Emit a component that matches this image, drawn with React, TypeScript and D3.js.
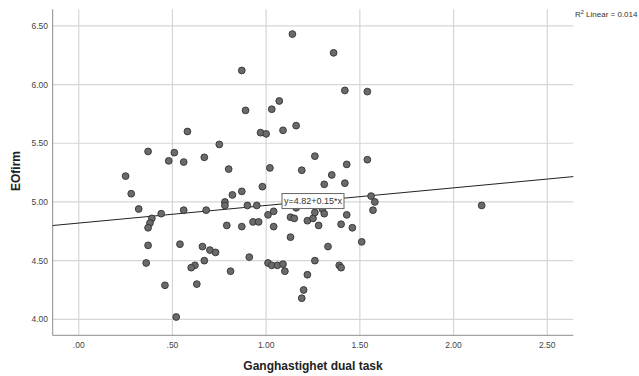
import React from "react";
import * as d3 from "d3";

const xValues = [
  1.14, 1.36, 0.87, 1.42, 1.54, 1.07, 1.03, 0.89, 1.16, 1.09,
  0.97, 1.0, 0.58, 0.75, 0.37, 0.51, 0.48, 0.56, 0.67, 1.26,
  1.54, 1.43, 1.35, 1.31, 1.42, 0.25, 0.8, 1.02, 1.19, 0.98,
  0.87, 0.82, 0.78, 0.78, 0.9, 0.95, 1.01, 1.04, 0.79, 0.87,
  0.93, 0.96, 1.04, 1.13, 1.15, 1.16, 1.22, 1.25, 1.26, 1.28,
  1.3, 1.31, 1.13, 1.33, 0.91, 1.01, 1.03, 1.06, 1.09, 1.1,
  0.81, 1.26, 1.22, 1.2, 1.19, 0.28, 0.32, 0.44, 0.39, 0.38,
  0.37, 0.56, 0.68, 0.37, 0.36, 0.54, 0.66, 0.7, 0.73, 0.67,
  0.62, 0.6, 0.63, 0.46, 0.52, 1.56, 1.58, 1.57, 1.43, 1.4,
  1.46, 1.51, 1.39, 1.4, 2.15,
];
const yValues = [
  6.43, 6.27, 6.12, 5.95, 5.94, 5.86, 5.79, 5.78, 5.65, 5.61,
  5.59, 5.58, 5.6, 5.49, 5.43, 5.42, 5.35, 5.34, 5.38, 5.39,
  5.36, 5.32, 5.23, 5.15, 5.16, 5.22, 5.28, 5.29, 5.27, 5.13,
  5.09, 5.06, 5.0, 4.97, 4.97, 4.97, 4.89, 4.92, 4.8, 4.79,
  4.83, 4.83, 4.79, 4.87, 4.86, 4.95, 4.84, 4.86, 4.91, 4.8,
  4.94, 4.9, 4.7, 4.62, 4.53, 4.48, 4.46, 4.46, 4.47, 4.41,
  4.41, 4.5, 4.38, 4.25, 4.18, 5.07, 4.94, 4.9, 4.86, 4.82,
  4.78, 4.93, 4.93, 4.63, 4.48, 4.64, 4.62, 4.59, 4.57, 4.5,
  4.46, 4.44, 4.3, 4.29, 4.02, 5.05, 5.0, 4.93, 4.89, 4.81,
  4.78, 4.66, 4.46, 4.44, 4.97,
];

const xTicks = [0, 0.5, 1, 1.5, 2, 2.5];
const xTickLabels = [".00", ".50", "1.00", "1.50", "2.00", "2.50"];
const yTicks = [4, 4.5, 5, 5.5, 6, 6.5];
const yTickLabels = ["4.00", "4.50", "5.00", "5.50", "6.00", "6.50"];

const intercept = 4.82;
const slope = 0.15;
const fitLabel = "y=4.82+0.15*x";
const r2Value = "0.014";
const xTitle = "Ganghastighet dual task";
const yTitle = "EOfirm";

const W = 639;
const H = 376;
const FONT = "'Liberation Sans', Arial, sans-serif";

export default function App() {
  const x = d3.scaleLinear().domain([-0.139, 2.639]).range([52.7, 573.3]);
  const y = d3.scaleLinear().domain([3.864, 6.641]).range([335.3, 9.3]);
  const [x0, x1] = x.domain();
  const line = d3
    .line<number>()
    .x((d) => x(d))
    .y((d) => y(intercept + slope * d));

  const labelX = 1.25;
  const lx = x(labelX);
  const ly = y(intercept + slope * labelX);
  const bw = 62;
  const bh = 15;

  return (
    <div style={{ position: "absolute", left: 0, top: 0 }}>
      <svg width={W} height={H} style={{ display: "block", background: "#fff" }}>
        <rect width={W} height={H} fill="#fff" />
        {/* grid */}
        {yTicks.map((t) => (
          <line key={"gy" + t} x1={x(x0)} x2={x(x1)} y1={y(t)} y2={y(t)} stroke="#d6d6d6" strokeWidth={1.2} />
        ))}
        {xTicks.map((t) => (
          <line key={"gx" + t} x1={x(t)} x2={x(t)} y1={y(3.864)} y2={y(6.641)} stroke="#d6d6d6" strokeWidth={1.2} />
        ))}
        {/* axes */}
        <line x1={x(x0)} x2={x(x0)} y1={y(3.864)} y2={y(6.641)} stroke="#8c8c8c" strokeWidth={1} />
        <line x1={x(x0)} x2={x(x1)} y1={y(3.864)} y2={y(3.864)} stroke="#8c8c8c" strokeWidth={1} />
        {/* tick labels */}
        {yTicks.map((t, i) => (
          <text key={"ly" + t} x={48} y={y(t)} dy="0.35em" textAnchor="end" fontFamily={FONT} fontSize={8.5} fill="#444">
            {yTickLabels[i]}
          </text>
        ))}
        {xTicks.map((t, i) => (
          <text key={"lx" + t} x={x(t)} y={345} dy="0.35em" textAnchor="middle" fontFamily={FONT} fontSize={8.5} fill="#444">
            {xTickLabels[i]}
          </text>
        ))}
        {/* titles */}
        <text x={313} y={366} dy="0.35em" textAnchor="middle" fontFamily={FONT} fontSize={12} fontWeight="bold" fill="#222">
          {xTitle}
        </text>
        <text
          transform={`translate(16,171) rotate(-90)`}
          dy="0.35em"
          textAnchor="middle"
          fontFamily={FONT}
          fontSize={12}
          fontWeight="bold"
          fill="#222"
        >
          {yTitle}
        </text>
        {/* fit line */}
        <path d={line([x0, x1]) || ""} fill="none" stroke="#222" strokeWidth={1} />
        {/* points */}
        {xValues.map((v, i) => (
          <circle key={"p" + i} cx={x(v)} cy={y(yValues[i])} r={3.4} fill="#6a6a6a" stroke="#333" strokeWidth={0.9} />
        ))}
        {/* fit label */}
        <rect x={lx - bw / 2} y={ly - bh / 2} width={bw} height={bh} fill="#fff" stroke="#666" strokeWidth={1} />
        <text x={lx} y={ly} dy="0.35em" textAnchor="middle" fontFamily={FONT} fontSize={9} fill="#333">
          {fitLabel}
        </text>
        {/* R2 */}
        <text x={575} y={14} dy="0.35em" fontFamily={FONT} fontSize={8} fill="#333">
          R<tspan fontSize={5.5} dy="-3">2</tspan>
          <tspan dy="3"> Linear = {r2Value}</tspan>
        </text>
      </svg>
    </div>
  );
}
